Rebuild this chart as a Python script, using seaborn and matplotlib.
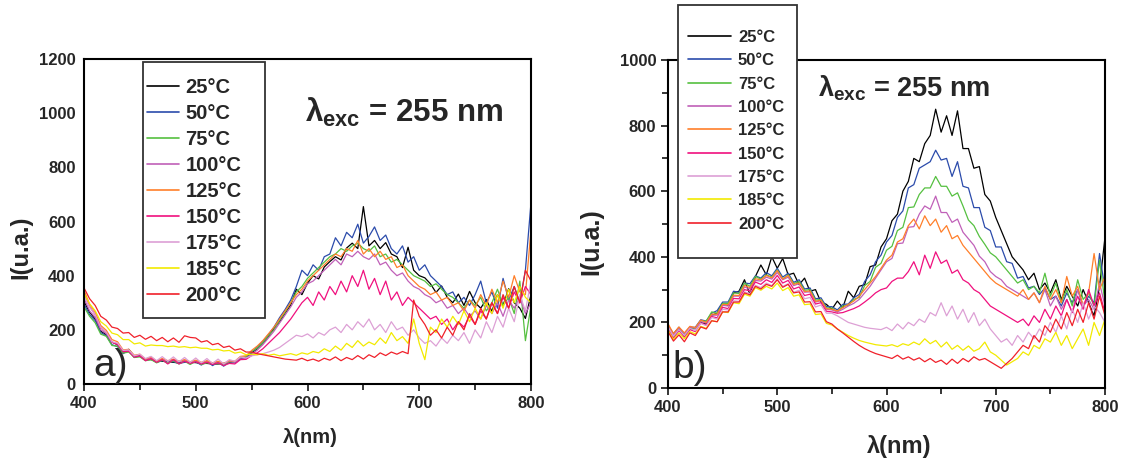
import numpy as np
import pandas as pd
import matplotlib
matplotlib.use("Agg")
import matplotlib.pyplot as plt
from matplotlib.patches import Rectangle
from matplotlib.ticker import MultipleLocator
import seaborn as sns

# wavelength grid (nm), one reading every 5 nm
wavelength = list(range(400, 805, 5))
temps = ["25°C", "50°C", "75°C", "100°C", "125°C", "150°C", "175°C", "185°C", "200°C"]
colors = ["#000000", "#2b4bab", "#55c040", "#c060b8", "#ff7f2a",
          "#f0107e", "#dda0d5", "#f2ea00", "#f0202a"]

# panel a)
a_25 = [305, 265, 240, 195, 182, 155, 145, 118, 128, 102,
        104, 90, 90, 86, 84, 82, 80, 78, 82, 80,
        79, 76, 76, 74, 74, 76, 78, 80, 94, 96,
        115, 130, 150, 175, 205, 230, 262, 292, 350, 330,
        372, 400, 388, 432, 452, 470, 458, 502, 520, 500,
        655, 510, 530, 500, 522, 480, 470, 430, 505, 420,
        400, 392, 370, 338, 362, 320, 300, 332, 290, 342,
        300, 280, 312, 268, 330, 290, 352, 300, 280, 242,
        330]
a_50 = [295, 256, 234, 190, 178, 145, 138, 112, 126, 98,
        104, 88, 92, 80, 86, 84, 82, 76, 80, 80,
        82, 70, 84, 68, 80, 66, 82, 78, 96, 98,
        118, 135, 158, 182, 210, 245, 275, 310, 360, 420,
        400, 440, 420, 470, 480, 540, 510, 560, 540, 590,
        520, 545, 580, 530, 550, 500, 480, 510, 450, 470,
        420, 440, 400, 380, 360, 330, 340, 300, 320, 290,
        330, 380, 300, 340, 280, 390, 310, 360, 300, 420,
        670]
a_75 = [285, 250, 226, 184, 176, 142, 140, 114, 118, 98,
        100, 86, 90, 78, 88, 76, 86, 74, 84, 72,
        84, 72, 78, 74, 76, 72, 82, 82, 98, 101,
        120, 132, 152, 178, 200, 235, 265, 300, 340, 360,
        390, 410, 430, 450, 470, 480, 500, 490, 510, 520,
        500, 490, 510, 470, 480, 450, 460, 440, 420, 400,
        390, 380, 360, 370, 350, 330, 320, 300, 280, 310,
        290, 320, 270, 300, 350, 290, 320, 260, 380, 160,
        290]
a_100 = [316, 270, 246, 200, 186, 155, 148, 122, 124, 104,
         108, 90, 98, 84, 92, 84, 90, 82, 88, 80,
         86, 78, 84, 76, 82, 74, 84, 80, 96, 94,
         110, 125, 145, 170, 195, 225, 255, 285, 320, 340,
         370, 380, 400, 420, 440, 460, 440, 480, 470, 490,
         470, 460, 480, 440, 450, 420, 400, 410, 380, 360,
         350, 330, 320, 300, 310, 280, 290, 260, 280, 250,
         270, 240, 290, 260, 300, 250, 310, 280, 320, 260,
         300]
a_125 = [346, 295, 266, 216, 198, 164, 156, 126, 128, 106,
         110, 92, 100, 84, 94, 86, 92, 84, 90, 82,
         88, 80, 86, 78, 84, 76, 86, 84, 102, 104,
         124, 140, 160, 185, 210, 240, 270, 300, 330, 350,
         380, 400, 420, 440, 460, 480, 470, 500, 490, 530,
         480, 500, 470, 490, 460, 470, 430, 440, 400, 380,
         360, 350, 330, 340, 310, 320, 290, 300, 270, 310,
         280, 330, 290, 350, 300, 380, 320, 400, 340, 330,
         570]
a_150 = [336, 286, 256, 208, 191, 154, 146, 119, 121, 99,
         104, 86, 94, 80, 90, 74, 90, 74, 84, 76,
         82, 74, 80, 72, 78, 68, 76, 74, 90, 91,
         105, 115, 130, 150, 170, 190, 215, 240, 270, 300,
         320, 290, 340, 310, 360, 330, 380, 340, 400, 360,
         420, 350, 390, 330, 380, 310, 340, 290, 320, 300,
         280, 260, 240, 250, 220, 240, 200, 230, 210, 250,
         220, 270, 240, 300, 260, 320, 280, 340, 300, 360,
         330]
a_175 = [326, 284, 256, 209, 191, 156, 151, 124, 126, 104,
         110, 94, 102, 86, 101, 84, 100, 82, 98, 80,
         96, 78, 94, 76, 92, 74, 90, 84, 100, 96,
         104, 108, 112, 118, 125, 135, 150, 165, 180, 175,
         185, 170, 190, 180, 200, 210, 190, 220, 200, 230,
         210, 240, 200, 220, 190, 230, 200, 210, 180, 200,
         170, 150, 160, 140, 170, 150, 180, 160, 190, 150,
         200, 170, 230, 190, 250, 210, 280, 230, 330, 270,
         380]
a_185 = [335, 296, 270, 230, 214, 188, 182, 164, 164, 148,
         152, 140, 144, 142, 142, 138, 140, 136, 138, 134,
         136, 132, 132, 126, 128, 122, 124, 114, 118, 108,
         110, 108, 112, 106, 110, 104, 108, 112, 106, 115,
         110, 120, 115, 130, 120, 140, 125, 150, 135, 160,
         140, 155, 145, 170, 150, 190, 160, 175, 150, 240,
         150, 90, 210, 190, 240, 210, 250, 220, 270, 230,
         280, 240, 300, 260, 330, 280, 350, 300, 360, 320,
         300]
a_200 = [355, 315, 290, 250, 236, 210, 205, 188, 190, 172,
         180, 165, 176, 160, 172, 156, 170, 154, 178, 172,
         170, 155, 160, 145, 150, 135, 140, 125, 130, 118,
         118, 112, 108, 104, 100, 96, 92, 90, 88, 95,
         86, 92, 84, 95, 88, 100, 86, 98, 90, 105,
         92, 108, 98, 115, 105, 118, 110, 120, 112, 310,
         250, 220, 180, 200, 170, 210, 180, 230, 200, 260,
         220, 280, 240, 300, 260, 330, 280, 360, 300, 420,
         380]

# panel b)
b_25 = [190, 165, 185, 158, 180, 182, 200, 195, 222, 228,
        258, 252, 290, 295, 330, 285, 340, 375, 345, 400,
        365, 395, 345, 350, 315, 335, 295, 300, 262, 255,
        240, 265, 245, 295, 275, 310, 315, 370, 375, 430,
        455, 510, 530, 600, 630, 700, 690, 745, 770, 850,
        780, 830, 770, 845, 730, 730, 670, 675, 590, 570,
        520, 480, 440, 400, 380, 360, 330, 350, 300, 320,
        290, 330, 270, 310, 280, 250, 300, 260, 220, 310,
        460]
b_50 = [185, 160, 180, 165, 185, 185, 208, 204, 228, 236,
        262, 262, 295, 292, 320, 318, 342, 335, 352, 342,
        365, 338, 350, 322, 330, 302, 305, 272, 275, 248,
        248, 238, 255, 256, 275, 285, 325, 345, 385, 405,
        445, 465, 520, 540, 610, 620, 670, 680, 690, 725,
        695, 700, 645, 690, 615, 610, 550, 550, 490, 480,
        430, 430, 385, 380, 335, 340, 305, 310, 285, 305,
        270, 280, 250, 290, 260, 300, 250, 280, 260, 410,
        300]
b_75 = [180, 155, 176, 162, 182, 180, 205, 204, 232, 228,
        258, 258, 290, 288, 320, 310, 340, 332, 345, 338,
        360, 332, 345, 318, 325, 298, 300, 268, 270, 244,
        244, 232, 250, 252, 270, 276, 312, 325, 368, 380,
        420, 432, 480, 490, 550, 552, 590, 610, 610, 645,
        615, 615, 585, 595, 555, 512, 495, 462, 438, 412,
        400, 380, 360, 340, 320, 330, 300, 310, 290, 350,
        280, 320, 260, 300, 250, 330, 270, 290, 250, 390,
        260]
b_100 = [190, 162, 184, 166, 186, 182, 202, 198, 222, 222,
         252, 250, 280, 280, 308, 302, 328, 326, 338, 332,
         352, 330, 338, 312, 318, 292, 293, 262, 266, 240,
         238, 232, 240, 250, 258, 270, 290, 310, 335, 360,
         385, 395, 440, 442, 490, 492, 530, 555, 545, 585,
         535, 535, 505, 515, 475, 455, 435, 402, 385, 355,
         340, 330, 310, 300, 290, 280, 270, 290, 260, 300,
         250, 280, 240, 270, 230, 300, 250, 270, 240, 320,
         250]
b_125 = [196, 166, 186, 168, 188, 184, 207, 200, 225, 225,
         255, 254, 283, 282, 313, 306, 333, 330, 343, 336,
         358, 332, 343, 316, 320, 294, 296, 264, 268, 242,
         240, 235, 245, 255, 265, 280, 300, 320, 340, 365,
         390, 405, 445, 455, 495, 515, 485, 525, 495, 515,
         475, 495, 455, 465, 435, 415, 395, 375, 355, 335,
         320, 310, 300, 290, 280, 300, 270, 290, 260, 310,
         270, 300, 260, 340, 280, 310, 250, 290, 410, 300,
         340]
b_150 = [182, 152, 175, 155, 178, 172, 198, 192, 218, 214,
         246, 242, 273, 272, 300, 296, 323, 316, 330, 322,
         343, 320, 328, 302, 308, 282, 286, 256, 260, 234,
         232, 228, 230, 236, 242, 250, 262, 275, 290, 300,
         305, 325, 335, 335, 355, 385, 345, 405, 365, 415,
         380, 390, 350, 360, 330, 320, 300, 290, 270, 250,
         240, 230, 220, 210, 200, 210, 190, 220, 200, 240,
         210, 250, 220, 270, 230, 280, 240, 300, 250, 290,
         230]
b_175 = [186, 158, 178, 160, 182, 175, 197, 190, 215, 210,
         240, 238, 266, 264, 293, 288, 313, 306, 320, 312,
         333, 310, 318, 292, 298, 272, 276, 247, 253, 228,
         228, 220, 210, 200, 195, 190, 185, 182, 180, 178,
         185, 175, 195, 180, 200, 190, 210, 200, 230, 220,
         260, 220, 250, 210, 240, 200, 230, 190, 210, 180,
         160, 140, 150, 130, 160, 140, 170, 150, 180, 160,
         200, 170, 220, 180, 240, 200, 260, 210, 250, 230,
         200]
b_185 = [176, 148, 168, 150, 172, 165, 188, 182, 205, 202,
         232, 230, 260, 257, 286, 280, 306, 298, 310, 302,
         320, 297, 306, 280, 284, 254, 256, 224, 226, 197,
         192, 180, 170, 160, 152, 145, 140, 136, 132, 130,
         128, 132, 126, 135, 130, 140, 132, 150, 135, 145,
         125, 140, 118, 130, 115, 128, 112, 120, 140, 110,
         100, 85, 70, 80, 90, 110, 100, 130, 120, 150,
         140, 170, 130, 160, 120, 150, 180, 130, 200, 160,
         210]
b_200 = [172, 143, 162, 141, 168, 160, 186, 180, 205, 202,
         232, 232, 262, 262, 290, 284, 310, 302, 316, 310,
         330, 307, 316, 290, 293, 262, 263, 232, 233, 202,
         195, 180, 168, 155, 142, 130, 120, 112, 105, 100,
         95, 90, 100, 88, 95, 85, 92, 80, 90, 78,
         85, 72, 88, 75, 90, 80, 95, 85, 90, 80,
         70, 60, 75, 90, 110, 130, 120, 160, 140, 190,
         170, 210, 180, 230, 190, 240, 200, 260, 210, 280,
         220]

series_a = [a_25, a_50, a_75, a_100, a_125, a_150, a_175, a_185, a_200]
series_b = [b_25, b_50, b_75, b_100, b_125, b_150, b_175, b_185, b_200]


def to_long(series):
    frames = []
    for t, vals in zip(temps, series):
        frames.append(pd.DataFrame({"wl": wavelength, "I": vals, "T": t}))
    return pd.concat(frames, ignore_index=True)


sns.set_style("ticks")
plt.rcParams["font.family"] = ["Liberation Sans", "DejaVu Sans"]
plt.rcParams["font.weight"] = "bold"
plt.rcParams["mathtext.fontset"] = "custom"
plt.rcParams["mathtext.rm"] = "Liberation Sans:bold"
plt.rcParams["mathtext.bf"] = "Liberation Sans:bold"
plt.rcParams["mathtext.it"] = "Liberation Sans:bold"

fig = plt.figure(figsize=(11.21, 4.61), dpi=100)
W, H = 1121, 461


def px_axes(l, t, r, b):
    return fig.add_axes([l / W, 1 - b / H, (r - l) / W, (b - t) / H])


palette = dict(zip(temps, colors))

# ---- panel a
ax1 = px_axes(84, 59, 531, 384)
sns.lineplot(data=to_long(series_a), x="wl", y="I", hue="T", palette=palette,
             estimator=None, sort=False, lw=0.9, legend=False, ax=ax1)
ax1.set_xlim(400, 800)
ax1.set_ylim(0, 1200)
ax1.set_xticks([400, 500, 600, 700, 800])
ax1.set_yticks(range(0, 1201, 200))
ax1.xaxis.set_minor_locator(MultipleLocator(50))
ax1.tick_params(axis="both", labelsize=12, width=1.3, length=5, direction="out")
ax1.tick_params(axis="x", which="minor", width=1.3, length=4, direction="out")
ax1.tick_params(axis="y", length=0, pad=6)
ax1.set_xlabel("λ(nm)", fontsize=14.5, fontweight="bold")
ax1.set_ylabel("I(u.a.)", fontsize=17, fontweight="bold")
ax1.xaxis.set_label_coords(0.506, -0.135)
ax1.yaxis.set_label_coords(-0.116, 0.42)
ax1.text(0.494, 0.834, r"$\lambda_{exc}$ = 255 nm", transform=ax1.transAxes,
         fontsize=22.5, fontweight="bold", ha="left", va="center")
ax1.text(0.02, 0.025, "a)", transform=ax1.transAxes, fontsize=28,
         fontweight="normal")

# ---- panel b
ax2 = px_axes(668, 60, 1105, 388)
sns.lineplot(data=to_long(series_b), x="wl", y="I", hue="T", palette=palette,
             estimator=None, sort=False, lw=0.9, legend=False, ax=ax2)
ax2.set_xlim(400, 800)
ax2.set_ylim(0, 1000)
ax2.set_xticks([400, 500, 600, 700, 800])
ax2.set_yticks(range(0, 1001, 200))
ax2.xaxis.set_minor_locator(MultipleLocator(50))
ax2.yaxis.set_minor_locator(MultipleLocator(100))
ax2.tick_params(axis="both", labelsize=12, width=1.3, length=5, direction="out")
ax2.tick_params(axis="both", which="minor", width=1.3, length=4, direction="out")
ax2.set_xlabel("λ(nm)", fontsize=17, fontweight="bold")
ax2.set_ylabel("I(u.a.)", fontsize=18, fontweight="bold")
ax2.xaxis.set_label_coords(0.53, -0.143)
ax2.yaxis.set_label_coords(-0.147, 0.445)
ax2.text(0.343, 0.915, r"$\lambda_{exc}$ = 255 nm", transform=ax2.transAxes,
         fontsize=19.5, fontweight="bold", ha="left", va="center")
ax2.text(0.01, 0.03, "b)", transform=ax2.transAxes, fontsize=28,
         fontweight="normal")

for ax in (ax1, ax2):
    for s in ax.spines.values():
        s.set_visible(True)
        s.set_linewidth(1.5)
        s.set_color("black")
    for lab in ax.get_xticklabels() + ax.get_yticklabels():
        lab.set_fontweight("bold")

# legends: frameless figure legends over hand-placed white boxes
handles = [plt.Line2D([], [], color=c, lw=1.2) for c in colors]

fig.add_artist(Rectangle((143 / W, 1 - 318 / H), 122 / W, 256 / H,
                         transform=fig.transFigure, facecolor="white",
                         edgecolor="#333333", lw=1.3, zorder=5))
fig.legend(handles, temps, loc="upper left", bbox_to_anchor=(147 / W, 1 - 78 / H),
           frameon=False, handlelength=1.6, handletextpad=0.3,
           labelspacing=0.35, borderpad=0, borderaxespad=0,
           prop={"weight": "bold", "size": 14.5}).set_zorder(6)

fig.add_artist(Rectangle((678 / W, 1 - 258 / H), 119 / W, 253 / H,
                         transform=fig.transFigure, facecolor="white",
                         edgecolor="#333333", lw=1.3, zorder=5))
fig.legend(handles, temps, loc="upper left", bbox_to_anchor=(688 / W, 1 - 30 / H),
           frameon=False, handlelength=2.6, handletextpad=0.4,
           labelspacing=0.5, borderpad=0, borderaxespad=0,
           prop={"weight": "bold", "size": 12}).set_zorder(6)

fig.savefig("out.png", dpi=100)
